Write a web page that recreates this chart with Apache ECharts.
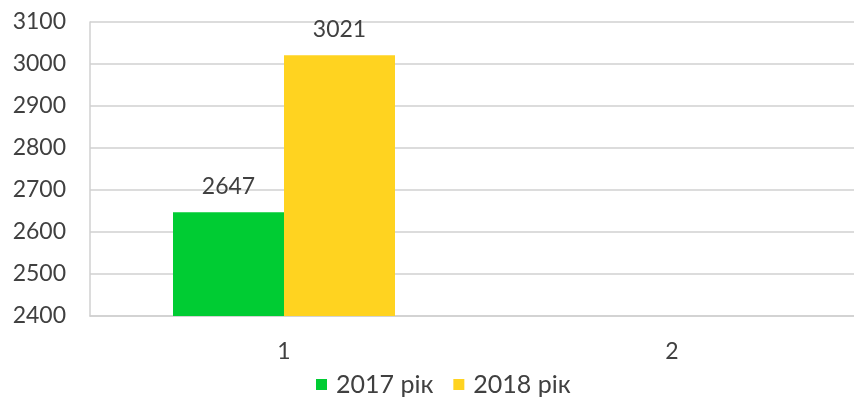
<!DOCTYPE html>
<html><head><meta charset="utf-8">
<script src="https://cdn.jsdelivr.net/npm/echarts@6/dist/echarts.min.js"></script>
<style>html,body{margin:0;padding:0;background:#fff;overflow:hidden}#c{width:866px;height:403px}</style>
</head><body><div id="c"></div>
<script>
const categories = ['1', '2'];
const series2017 = [2647, null];
const series2018 = [3021, null];
const seriesNames = ['2017 рік', '2018 рік'];
const yMin = 2400, yMax = 3100, yStep = 100;

const font = 'Lato';
const chart = echarts.init(document.getElementById('c'));
chart.setOption({
  animation: false,
  textStyle: { fontFamily: font },
  grid: { left: 90, right: 0, top: 22, bottom: 87, containLabel: false },
  legend: {
    bottom: 6, left: 316, padding: 0,
    itemWidth: 11, itemHeight: 11, itemGap: 20,
    icon: 'rect',
    textStyle: { fontFamily: font, fontSize: 25, color: '#404040', padding: [0, 0, 0, 4] },
    data: seriesNames
  },
  xAxis: {
    type: 'category', data: categories,
    axisLine: { lineStyle: { color: '#d0d0d0', width: 1.5 } },
    axisTick: { show: false },
    axisLabel: { fontFamily: font, fontSize: 23, color: '#404040', margin: 24 }
  },
  yAxis: {
    type: 'value', min: yMin, max: yMax, interval: yStep,
    axisLine: { show: true, lineStyle: { color: '#d0d0d0', width: 1.5 } },
    axisTick: { show: false },
    splitLine: { lineStyle: { color: '#d0d0d0', width: 1.5 } },
    axisLabel: { fontFamily: font, fontSize: 23, color: '#404040', margin: 24,
      formatter: v => String(v) }
  },
  series: [
    { name: seriesNames[0], type: 'bar', data: series2017, barWidth: 111, barGap: '0%',
      itemStyle: { color: '#00cc33' },
      label: { show: true, position: 'top', distance: 14, fontFamily: font, fontSize: 23, color: '#404040' } },
    { name: seriesNames[1], type: 'bar', data: series2018, barWidth: 111, barGap: '0%',
      itemStyle: { color: '#ffd320' },
      label: { show: true, position: 'top', distance: 14, fontFamily: font, fontSize: 23, color: '#404040' } }
  ]
});
</script></body></html>
